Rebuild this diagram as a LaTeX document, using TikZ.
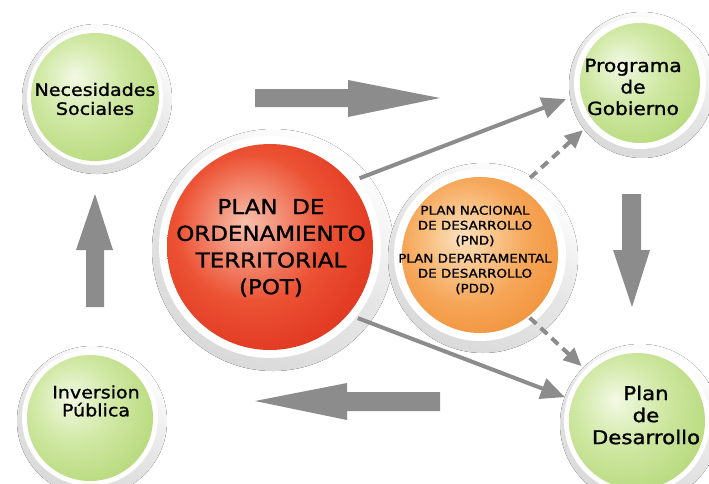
\documentclass[tikz,border=0pt]{standalone}
\usepackage{fontspec}
\newfontfamily\techfont{DejaVu Sans}[FakeStretch=1.12,FakeBold=1.3]
\usetikzlibrary{arrows.meta,calc}
\definecolor{arrowgray}{HTML}{8C8C8C}
\definecolor{ringgray}{HTML}{DADADA}
\definecolor{gA}{HTML}{F2F9E4}
\definecolor{gB}{HTML}{D0E8A4}
\definecolor{gC}{HTML}{A6D062}
\definecolor{rA}{HTML}{F8C0AC}
\definecolor{rB}{HTML}{EC5234}
\definecolor{rC}{HTML}{D41A0A}
\definecolor{oA}{HTML}{FCE2BC}
\definecolor{oB}{HTML}{F6A658}
\definecolor{oC}{HTML}{EC7E1C}
\pgfdeclareradialshading{greenball}{\pgfpoint{-8bp}{8bp}}{color(0bp)=(gA); color(16bp)=(gB); color(44bp)=(gC); color(80bp)=(gC)}
\pgfdeclareradialshading{redball}{\pgfpoint{-6bp}{6bp}}{color(0bp)=(rA); color(18bp)=(rB); color(46bp)=(rC); color(80bp)=(rC)}
\pgfdeclareradialshading{orangeball}{\pgfpoint{-6bp}{6bp}}{color(0bp)=(oA); color(20bp)=(oB); color(46bp)=(oC); color(80bp)=(oC)}
\tikzset{
  ringfill/.style={shading=axis, top color=white, bottom color=ringgray, middle color=ringgray!70, shading angle=-30},
  gapfill/.style={fill=white},
  gball/.style={circle, inner sep=0pt, outer sep=0pt, minimum size=#1, shading=greenball},
  rball/.style={circle, inner sep=0pt, outer sep=0pt, minimum size=#1, shading=redball},
  oball/.style={circle, inner sep=0pt, outer sep=0pt, minimum size=#1, shading=orangeball},
  lbl/.style={align=center, text=black, inner sep=0pt},
  blockarrow/.style={fill=arrowgray},
  conn/.style={draw=arrowgray, line width=4pt, -{Triangle[length=24pt,width=21pt]}, arrowgray},
  dconn/.style={draw=arrowgray, line width=4pt, dash pattern=on 9pt off 6pt, -{Triangle[length=18pt,width=16pt]}, arrowgray}
}
\begin{document}
\begin{tikzpicture}[x=1pt,y=-1pt]
\useasboundingbox (0,0) rectangle (709,483);
\clip (0,0) rectangle (709,483);
\fill[white] (0,0) rectangle (709,483);

% Necesidades Sociales
\fill[ringfill] (97,99) circle (75pt);
\fill[gapfill] (95,97) circle (68pt);
\node[gball=128pt] (nec) at (95,97) {};
\node[lbl, font=\techfont\fontsize{17}{19}\selectfont] (necT) at (95,99) {Necesidades\\Sociales};

% Programa de Gobierno
\fill[ringfill] (642,85) circle (73pt);
\fill[gapfill] (640,83) circle (66pt);
\node[gball=120pt] (prog) at (640,83) {};
\node[lbl, font=\techfont\fontsize{18}{21.5}\selectfont] (progT) at (633,87) {Programa\\de\\Gobierno};

% Inversion Publica
\fill[ringfill] (92,421) circle (75pt);
\fill[gapfill] (90,418) circle (68pt);
\node[gball=126pt] (inv) at (90,418) {};
\node[lbl, font=\techfont\fontsize{17}{18}\selectfont] (invT) at (96,401) {Inversion\\Pública};

% Plan de Desarrollo
\fill[ringfill] (640,424) circle (80pt);
\fill[gapfill] (637,421) circle (73pt);
\node[gball=136pt] (des) at (637,421) {};
\node[lbl, font=\techfont\fontsize{19}{22}\selectfont] (desT) at (646,415) {Plan\\de\\Desarrollo};

% POT
\fill[ringfill] (273,250) circle (121pt);
\fill[gapfill] (270,247) circle (111pt);
\node[rball=206pt] (pot) at (270,247) {};
\node[lbl, font=\techfont\fontsize{20.5}{26.7}\selectfont] (potT) at (271,248) {PLAN~~DE\\ORDENAMIENTO\\TERRITORIAL\\(POT)};

% PND / PDD
\fill[ringfill] (483,258) circle (95pt);
\fill[gapfill] (480,255) circle (86pt);
\node[oball=156pt] (pnd) at (480,255) {};
\node[lbl, font=\techfont\fontsize{12}{15}\selectfont] (pndT) at (475,250) {PLAN NACIONAL\\DE DESARROLLO\\(PND)\\[3pt]PLAN DEPARTAMENTAL\\DE DESARROLLO\\(PDD)};

% block arrows
\fill[blockarrow] (255,89) -- (348,89) -- (348,80) -- (440,98) -- (348,117) -- (348,107) -- (255,107) -- cycle;
\fill[blockarrow] (440,392) -- (347,392) -- (347,383) -- (255,401) -- (347,420) -- (347,411) -- (440,411) -- cycle;
\fill[blockarrow] (86,307) -- (86,250) -- (76,250) -- (95,194) -- (113,250) -- (104,250) -- (104,307) -- cycle;
\fill[blockarrow] (622,194) -- (641,194) -- (641,250) -- (650,250) -- (632,307) -- (613,250) -- (622,250) -- cycle;

% connector start points
\coordinate (s1) at ($(pot.center)+(-37.5:113)$);
\coordinate (s2) at ($(pnd.center)+(-57:92)$);
\coordinate (s3) at ($(pot.center)+(39:113)$);
\coordinate (s4) at ($(pnd.center)+(51.6:80)$);

% connectors
\draw[conn, shorten >=16pt] (s1) -- (prog.190);
\draw[dconn, shorten >=14pt] (s2) -- (prog.219);
\draw[conn, shorten >=8pt] (s3) -- (des.162);
\draw[dconn, shorten >=10pt] (s4) -- (des.135.5);
\end{tikzpicture}
\end{document}
